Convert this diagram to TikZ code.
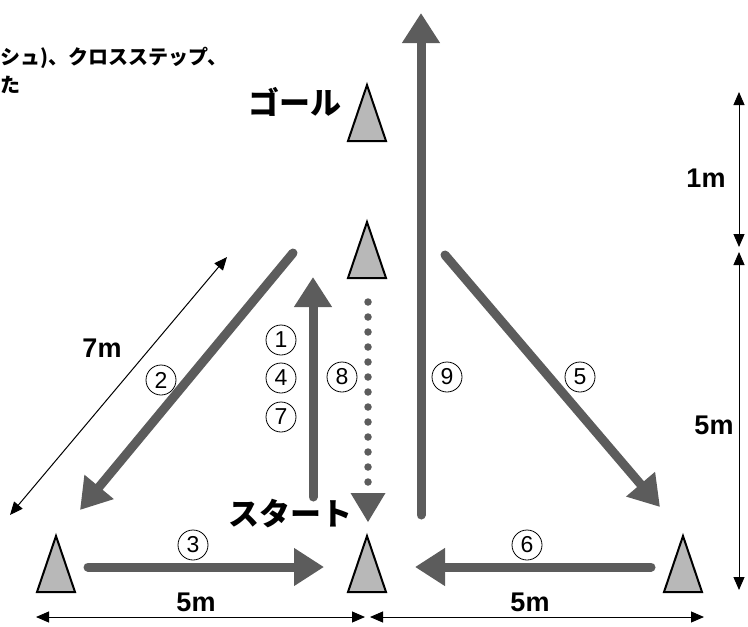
\documentclass[tikz,border=0pt]{standalone}
\usepackage{fontspec}
\setmainfont{Liberation Sans}
\newfontfamily\jp{Noto Sans CJK JP}
\usetikzlibrary{arrows.meta}
\definecolor{runc}{HTML}{5C5C5C}
\definecolor{conec}{HTML}{B8B8B8}
\begin{document}
\begin{tikzpicture}[x=1pt,y=-1pt,
  run/.style={draw=runc, line width=9pt, line cap=round, -{Triangle[length=30pt,width=36pt]}},
  dotrun/.style={draw=runc, line width=7.5pt, line cap=round, dash pattern=on 0pt off 15pt},
  dim/.style={draw=black, line width=1pt, {Triangle[length=13pt,width=11pt]}-{Triangle[length=13pt,width=11pt]}},
  num/.style={circle, draw=black, line width=0.8pt, minimum size=30pt, inner sep=0pt, font=\fontsize{23}{23}\selectfont},
  dlab/.style={font=\bfseries\fontsize{27}{27}\selectfont, inner sep=0pt},
  jlab/.style={font=\jp\bfseries\fontsize{31}{31}\selectfont, inner sep=0pt},
  pagetext/.style={font=\jp\bfseries\fontsize{20}{20}\selectfont, anchor=west, inner sep=0pt},
  cone/.pic={\draw[fill=conec, line width=2pt, line join=miter] (-19,27) -- (0,-29) -- (19,27) -- cycle;}]
\useasboundingbox (0,0) rectangle (748,627);
% cones
\coordinate (goal) at (367,114);
\coordinate (mid) at (367,251);
\coordinate (bl) at (56,565);
\coordinate (bm) at (367,565);
\coordinate (br) at (683,565);
\foreach \c in {goal,mid,bl,bm,br} \pic at (\c) {cone};
% arrow endpoints
\coordinate (a1s) at (313,497); \coordinate (a1e) at (313,277);
\coordinate (a2s) at (293,253); \coordinate (a2e) at (80,510);
\coordinate (a3s) at (88,567);  \coordinate (a3e) at (324,567);
\coordinate (a5s) at (445,255); \coordinate (a5e) at (660,507);
\coordinate (a6s) at (651,567); \coordinate (a6e) at (415,567);
\coordinate (a9s) at (421,515); \coordinate (a9e) at (421,13);
\coordinate (a8s) at (368,302); \coordinate (a8m) at (368,483); \coordinate (a8e) at (368,522);
\draw[run] (a1s) -- (a1e);
\draw[run] (a2s) -- (a2e);
\draw[run] (a3s) -- (a3e);
\draw[run] (a5s) -- (a5e);
\draw[run] (a6s) -- (a6e);
\draw[run] (a9s) -- (a9e);
\draw[dotrun] (a8s) -- (a8m);
\fill[runc] (350.5,493) -- (385.5,493) -- (a8e) -- cycle;
% dimension lines
\coordinate (d7a) at (227,257); \coordinate (d7b) at (10,515);
\coordinate (dla) at (36,617);  \coordinate (dlb) at (365,617);
\coordinate (dra) at (370,617); \coordinate (drb) at (704,617);
\coordinate (d1a) at (739,92);  \coordinate (d1b) at (739,247);
\coordinate (d5a) at (739,252); \coordinate (d5b) at (739,590);
\draw[dim] (d7a) -- (d7b);
\draw[dim] (dla) -- (dlb);
\draw[dim] (dra) -- (drb);
\draw[dim] (d1a) -- (d1b);
\draw[dim] (d5a) -- (d5b);
% labels
\node[num] (n1) at (281,340) {1};
\node[num] (n4) at (281,378) {4};
\node[num] (n7) at (281,417) {7};
\node[num] (n2) at (161,380) {2};
\node[num] (n8) at (342,377) {8};
\node[num] (n9) at (447,377) {9};
\node[num] (n5) at (580,377) {5};
\node[num] (n3) at (193,545) {3};
\node[num] (n6) at (527,545) {6};
\node[dlab] (m7) at (102,348) {7m};
\node[dlab] (m5l) at (196,602) {5m};
\node[dlab] (m5r) at (530,602) {5m};
\node[dlab] (m1) at (706,178) {1m};
\node[dlab] (m5v) at (714,425) {5m};
\node[jlab] (goaltext) at (295,102) {ゴール};
\node[jlab] (starttext) at (290,514) {スタート};
% cut-off page text
\node[pagetext] (t1) at (0,58) {シュ)、クロスステップ、};
\node[pagetext] (t2) at (0,85) {た};
\end{tikzpicture}
\end{document}
